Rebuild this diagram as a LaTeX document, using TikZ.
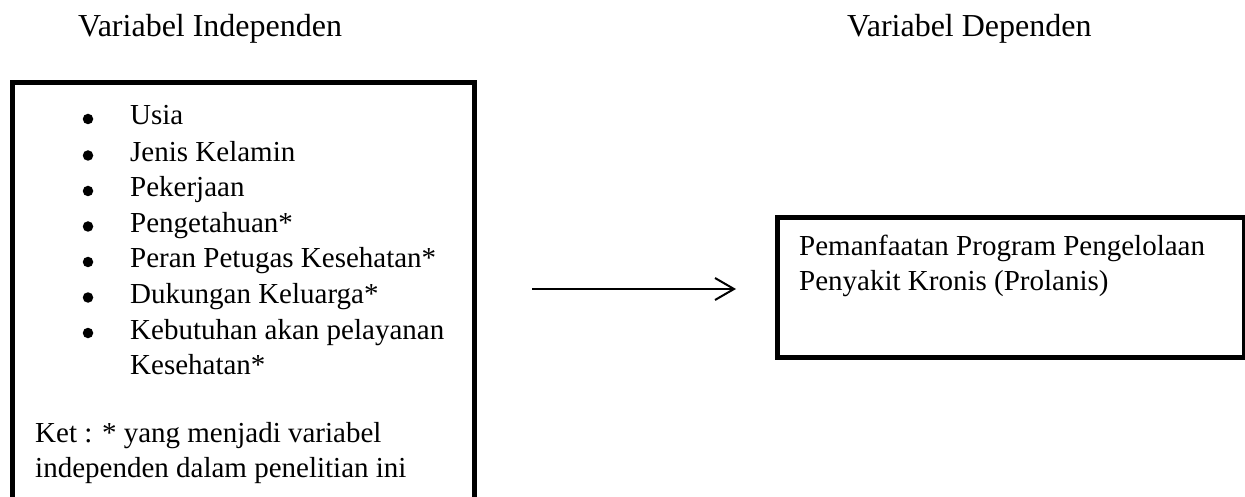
\documentclass[tikz,border=0pt]{standalone}
\usepackage{fontspec}
\setmainfont{Liberation Serif}
\usetikzlibrary{arrows.meta}
\tikzset{
  frame/.style={draw=black, line width=5pt, fill=none},
  txt/.style={anchor=base west, inner sep=0pt, font=\fontsize{29}{35}\selectfont},
  title/.style={anchor=base west, inner sep=0pt, font=\fontsize{32}{36}\selectfont},
  bul/.style={circle, fill=black, inner sep=0pt, minimum size=10.5pt},
  link/.style={line width=2pt, -{Straight Barb[length=19pt, width=22pt, line width=2pt]}}
}
\begin{document}
\begin{tikzpicture}[x=1pt,y=1pt]
\useasboundingbox (0,0) rectangle (1245,496);
\clip (0,0) rectangle (1245,496);
% titles
\node[title] (tind) at (78,459) {Variabel Independen};
\node[title] (tdep) at (847,459) {Variabel Dependen};
% left box
\draw[frame] (12,413) rectangle (474,-30);
% list
\node[bul] (b1) at (88,377) {};
\node[txt] (l1) at (130,371) {Usia};
\node[bul] (b2) at (88,340.5) {};
\node[txt] (l2) at (130,334.5) {Jenis Kelamin};
\node[bul] (b3) at (88,305) {};
\node[txt] (l3) at (130,299) {Pekerjaan};
\node[bul] (b4) at (88,269.5) {};
\node[txt] (l4) at (130,263.5) {Pengetahuan*};
\node[bul] (b5) at (88,234) {};
\node[txt] (l5) at (130,228) {Peran Petugas Kesehatan*};
\node[bul] (b6) at (88,198.5) {};
\node[txt] (l6) at (130,192.5) {Dukungan Keluarga*};
\node[bul] (b7) at (88,163) {};
\node[txt] (l7) at (130,157) {Kebutuhan akan pelayanan};
\node[txt] (l8) at (130,121.5) {Kesehatan*};
\node[txt] (k1) at (35,53.5) {Ket : * yang menjadi variabel};
\node[txt] (k2) at (35,19) {independen dalam penelitian ini};
% right box
\node[frame, anchor=north west, minimum width=467pt, minimum height=140pt, inner sep=0pt] (dep) at (775,281) {};
\node[txt] (r1) at (799,240.5) {Pemanfaatan Program Pengelolaan};
\node[txt] (r2) at (799,206) {Penyakit Kronis (Prolanis)};
% arrow
\coordinate (as) at (532,207);
\coordinate (ae) at (736,207);
\draw[link] (as) -- (ae);
\end{tikzpicture}
\end{document}
